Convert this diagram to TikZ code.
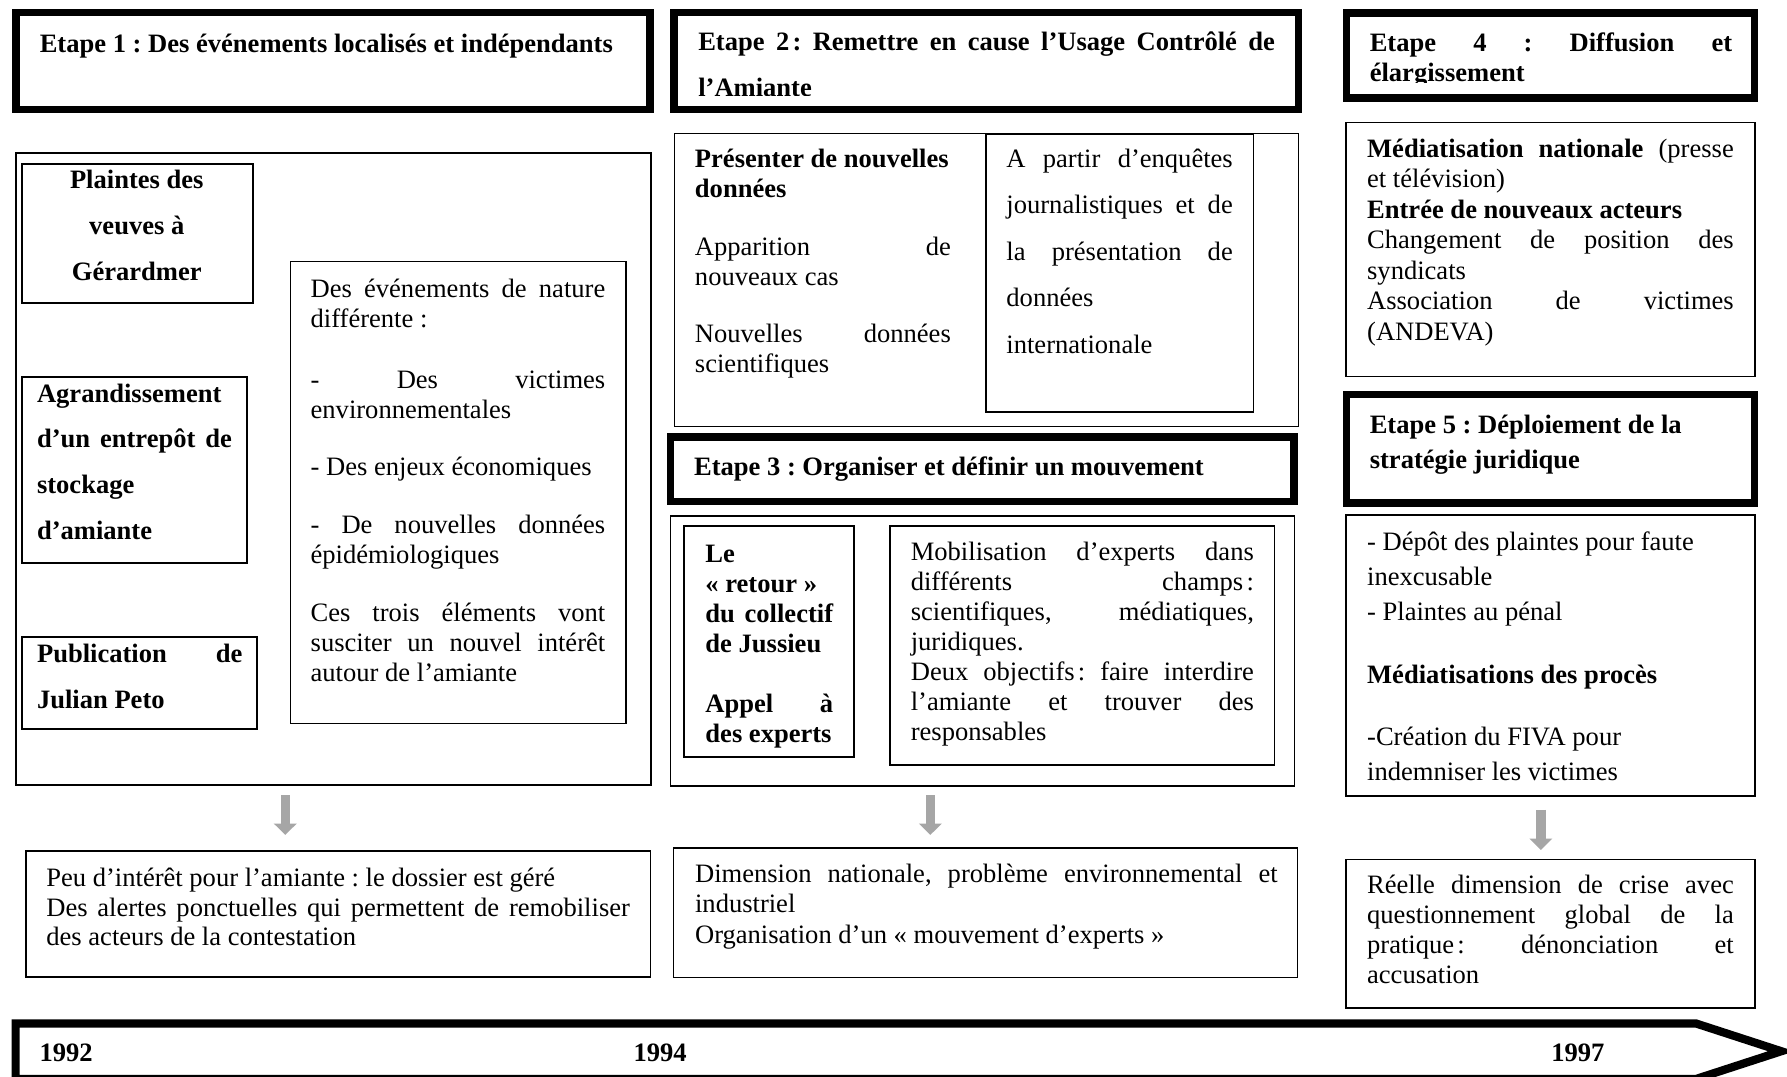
\documentclass[tikz,border=0pt]{standalone}
\usepackage{fontspec}
\setmainfont{Liberation Serif}
\usetikzlibrary{fit,arrows.meta}
\definecolor{arrowgray}{HTML}{A6A6A6}
\frenchspacing
\newcommand\myfs[1]{\fontsize{11.65pt}{#1}\selectfont\spaceskip=0pt\xspaceskip=0pt}
\newcommand\strT{\rule{0pt}{12pt}}
\newcommand\nc{\kern0.12em}
\newcommand\jline[2]{{\spaceskip=0.25em plus 1fil\xspaceskip=0.25em plus 1fil\makebox[#1][s]{#2}}}
\begin{document}
\begin{tikzpicture}[x=0.5pt,y=-0.5pt,
  titlebox/.style={draw=black, line width=3.3pt, inner sep=0pt},
  outerbox/.style={draw=black, line width=0.7pt, inner sep=0pt},
  innerbox/.style={draw=black, line width=0.9pt, inner sep=0pt},
  txt/.style={anchor=north west, inner sep=0pt, align=flush left, text width=#1},
  yr/.style={anchor=base west, inner sep=0pt, font=\bfseries\myfs{13pt}},
  garrow/.style={draw=arrowgray, line width=4.1pt, -{Triangle[length=5pt,width=9.8pt]}},
  timeline/.style={draw=black, line width=3.6pt, line join=miter}]
\useasboundingbox (0,0) rectangle (1568,945);
\fill[white] (0,0) rectangle (1568,945);

% ---------- boxes ----------
\node[titlebox, fit={(14,11.1) (570.5,96)}] (t1) {};
\node[outerbox, fit={(14,134) (571,688.8)}] (c1) {};
\node[innerbox, fit={(19.2,143.9) (221.6,265.6)}] (p1) {};
\node[innerbox, fit={(19.2,331) (216.8,493.7)}] (ag) {};
\node[innerbox, fit={(19.2,558.6) (225.3,640)}] (pu) {};
\node[outerbox, fit={(254.8,229.6) (549.5,634.7)}] (r1) {};
\node[outerbox, fit={(22.7,746.7) (570.7,857.5)}] (b1) {};

\node[titlebox, fit={(591.5,11.1) (1139.3,96)}] (t2) {};
\node[outerbox, fit={(592,117) (1139.3,374.4)}] (c2) {};
\node[outerbox, fit={(865.3,118) (1099.8,361.4)}] (r2) {};
\node[titlebox, fit={(588.3,383.5) (1135.6,440.2)}] (t3) {};
\node[outerbox, fit={(588.3,452.8) (1136,689.6)}] (c3) {};
\node[innerbox, fit={(600.5,461.5) (749,664.5)}] (l3) {};
\node[outerbox, fit={(781.1,461.5) (1118.3,671.5)}] (m3) {};
\node[outerbox, fit={(590.8,744.3) (1138.6,857.8)}] (b2) {};

\node[titlebox, fit={(1181.6,11.4) (1539.5,85.8)}] (t4) {};
\node[outerbox, fit={(1181,107.6) (1539.9,330.5)}] (c4) {};
\node[titlebox, fit={(1181.6,346.1) (1539.5,441.2)}] (t5) {};
\node[outerbox, fit={(1181,451.9) (1539.9,698.4)}] (c5) {};
\node[outerbox, fit={(1181,754) (1539.9,884.7)}] (b3) {};

% ---------- titles ----------
\node[txt=270pt, font=\bfseries\myfs{13.15pt}] (t1txt) at (34.5,21.3)
  {\strT Etape 1 : Des événements localisés et indépendants};
\begin{scope}
  \clip (595,14) rectangle (1136,83.4);
  \node[txt=256pt, font=\bfseries\myfs{20.25pt}] (t2txt) at (612.3,19.9)
    {\strT\jline{253pt}{Etape 2\nc: Remettre en cause l’Usage Contrôlé de}\\ l’Amiante};
\end{scope}
\node[txt=270pt, font=\bfseries\myfs{13.15pt}] (t3txt) at (608.6,392.8)
  {\strT Etape 3 : Organiser et définir un mouvement};
\begin{scope}
  \clip (1185,14) rectangle (1536,72.5);
  \node[txt=162pt, font=\bfseries\myfs{13.15pt}] (t4txt) at (1201.5,20.5)
    {\strT\jline{159pt}{Etape 4 : Diffusion et}\\ élargissement};
\end{scope}
\node[txt=162pt, font=\bfseries\myfs{15.65pt}] (t5txt) at (1201.5,355.6)
  {\strT Etape 5 : Déploiement de la\\ stratégie juridique};

% ---------- étape 1 ----------
\node[anchor=north, inner sep=0pt, align=flush center, text width=100pt, font=\bfseries\myfs{20.15pt}] (p1txt) at (120,141.2)
  {\strT Plaintes des\\ veuves à\\ Gérardmer};
\node[txt=90pt, font=\bfseries\myfs{20.13pt}] (agtxt) at (32.1,328.4)
  {\strT Agrandissement\\ \jline{85.5pt}{d’un entrepôt de}\\ stockage\\ d’amiante};
\node[txt=92pt, font=\bfseries\myfs{20.45pt}] (putxt) at (32.1,556.6)
  {\strT\jline{90.1pt}{Publication de}\\ Julian Peto};
\node[txt=130pt, font=\myfs{13.15pt}] (r1txt) at (272.2,236.3)
  {\strT\jline{129.25pt}{Des événements de nature}\\
   différente :\\[13.8pt]
   \jline{129.25pt}{- Des victimes}\\
   environnementales\\[12pt]
   - Des enjeux économiques\\[12pt]
   \jline{129.25pt}{- De nouvelles données}\\
   épidémiologiques\\[12.5pt]
   \jline{129.25pt}{Ces trois éléments vont}\\
   \jline{129.25pt}{susciter un nouvel intérêt}\\
   autour de l’amiante};
\node[txt=258pt, font=\myfs{13pt}] (b1txt) at (40.3,753.4)
  {\strT Peu d’intérêt pour l’amiante : le dossier est géré\\
   \jline{256pt}{Des alertes ponctuelles qui permettent de remobiliser}\\
   des acteurs de la contestation};

% ---------- étape 2 ----------
\node[txt=115pt, font=\myfs{13.2pt}] (c2txt) at (609.4,122.2)
  {\strT\textbf{Présenter de nouvelles}\\
   \textbf{données}\\[12.3pt]
   \jline{112.25pt}{Apparition de}\\
   nouveaux cas\\[11.7pt]
   \jline{112.25pt}{Nouvelles données}\\
   scientifiques};
\node[txt=102pt, font=\myfs{20.4pt}] (r2txt) at (882.7,122.2)
  {\strT\jline{99.3pt}{A partir d’enquêtes}\\
   \jline{99.3pt}{journalistiques et de}\\
   \jline{99.3pt}{la présentation de}\\
   données\\
   internationale};

% ---------- étape 3 ----------
\node[txt=60pt, font=\bfseries\myfs{13.15pt}] (l3txt) at (618.6,468.8)
  {\strT Le\\
   «~retour~»\\
   \jline{56pt}{du collectif}\\
   de Jussieu\\[13.2pt]
   \jline{56pt}{Appel à}\\
   des experts};
\node[txt=153pt, font=\myfs{13.15pt}] (m3txt) at (798.8,467.4)
  {\strT\jline{150.5pt}{Mobilisation d’experts dans}\\
   \jline{150.5pt}{différents champs\nc:}\\
   \jline{150.5pt}{scientifiques, médiatiques,}\\
   juridiques.\\
   \jline{150.5pt}{Deux objectifs\nc: faire interdire}\\
   \jline{150.5pt}{l’amiante et trouver des}\\
   responsables};
\node[txt=258pt, font=\myfs{13.5pt}] (b2txt) at (609.5,749.6)
  {\strT\jline{255.6pt}{Dimension nationale, problème environnemental et}\\
   industriel\\
   Organisation d’un «~mouvement d’experts~»};

% ---------- étapes 4 et 5 ----------
\node[txt=163pt, font=\myfs{13.4pt}] (c4txt) at (1199.2,113.5)
  {\strT\jline{160.85pt}{\textbf{Médiatisation nationale} (presse}\\
   et télévision)\\
   \textbf{Entrée de nouveaux acteurs}\\
   \jline{160.85pt}{Changement de position des}\\
   syndicats\\
   \jline{160.85pt}{Association de victimes}\\
   (ANDEVA)};
\node[txt=163pt, font=\myfs{15.35pt}] (c5txt) at (1199.2,458.6)
  {\strT - Dépôt des plaintes pour faute\\
   inexcusable\\
   - Plaintes au pénal\\[12.2pt]
   \textbf{Médiatisations des procès}\\[12pt]
   -Création du FIVA pour\\
   indemniser les victimes};
\node[txt=163pt, font=\myfs{13.15pt}] (b3txt) at (1199.2,759.8)
  {\strT\jline{160.85pt}{Réelle dimension de crise avec}\\
   \jline{160.85pt}{questionnement global de la}\\
   \jline{160.85pt}{pratique\nc: dénonciation et}\\
   accusation};

% ---------- arrows ----------
\coordinate (a1s) at (250.3,697.6); \coordinate (a1e) at (250.3,732.6);
\coordinate (a2s) at (816.3,697.6); \coordinate (a2e) at (816.3,732.6);
\coordinate (a3s) at (1352,710.7);  \coordinate (a3e) at (1352,745.8);
\draw[garrow] (a1s) -- (a1e);
\draw[garrow] (a2s) -- (a2e);
\draw[garrow] (a3s) -- (a3e);

% ---------- timeline ----------
\coordinate (tl1) at (13.7,898);
\coordinate (tl2) at (1488,898);
\coordinate (tl3) at (1563,922.4);
\coordinate (tl4) at (1488,946.8);
\coordinate (tl5) at (13.7,946.8);
\draw[timeline] (tl1) -- (tl2) -- (tl3) -- (tl4) -- (tl5) -- cycle;
\node[yr] (y1992) at (34.3,931.5) {1992};
\node[yr] (y1994) at (555.6,931.5) {1994};
\node[yr] (y1997) at (1360.8,931.5) {1997};
\end{tikzpicture}
\end{document}
